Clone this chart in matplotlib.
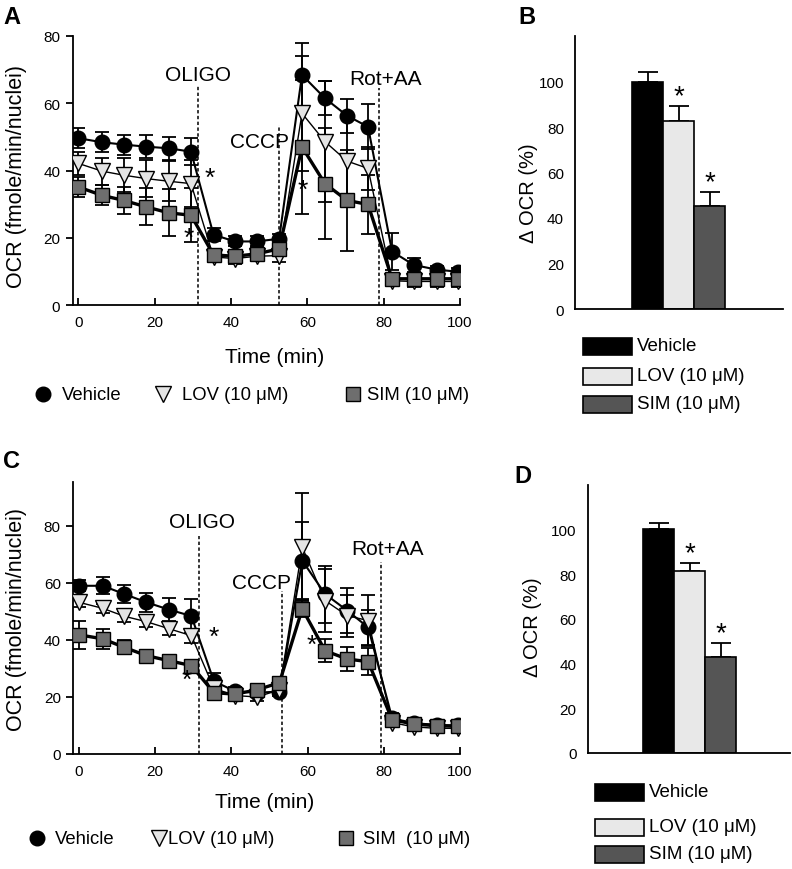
import matplotlib
matplotlib.use("Agg")
import matplotlib.pyplot as plt
from matplotlib.patches import Rectangle
import numpy as np

plt.rcParams['font.family'] = ['Liberation Sans', 'DejaVu Sans']

# ---------------- data ----------------
times = [0, 6.2, 11.9, 17.7, 23.7, 29.5, 35.4, 41.0, 46.7, 52.6,
         58.6, 64.6, 70.4, 75.9, 82.2, 87.9, 94.0, 99.5]
series_names = ["Vehicle", "LOV (10 μM)", "SIM (10 μM)"]

# Panel A
vehA = [49.6, 48.4, 47.7, 47.1, 46.6, 45.6, 20.9, 18.9, 18.9, 19.7,
        68.4, 61.5, 56.3, 53.0, 15.9, 11.9, 10.5, 9.9]
vehA_err = [3, 3, 3, 3.5, 3.5, 4, 2, 1.5, 1.5, 1.5,
            9.5, 5, 5, 6.7, 5.6, 2, 1.2, 1]
lovA = [42.1, 39.8, 38.6, 37.6, 36.8, 36.1, 14.3, 13.8, 14.5, 14.7,
        57.0, 48.6, 42.8, 40.6, 7.2, 7.0, 7.0, 7.0]
lovA_err = [3.5, 4, 5, 5.5, 6, 7, 1.5, 1.5, 1.5, 2,
            17, 18, 13, 6.5, 1.5, 1.5, 1.5, 1.5]
simA = [35.1, 32.6, 31.1, 29.2, 27.4, 26.7, 14.9, 14.5, 15.2, 16.7,
        47.0, 36.1, 31.1, 29.9, 7.8, 7.8, 7.8, 7.8]
simA_err = [3, 3, 4, 5.5, 7, 8, 1.5, 1.5, 2, 2,
            20, 16.5, 15, 8.7, 1.5, 1.5, 1.5, 1.5]

# Panel C
vehC = [59.0, 59.0, 56.1, 53.2, 50.6, 48.4, 25.5, 22.0, 21.5, 21.9,
        67.8, 56.1, 50.3, 44.4, 12.5, 10.8, 10.2, 10.0]
vehC_err = [2, 3, 3, 3.3, 4, 6, 3, 1.5, 1.5, 1.5,
            13.5, 10, 8, 6, 2, 1.5, 1.5, 1.5]
lovC = [53.2, 51.1, 48.3, 46.4, 43.9, 41.5, 23.0, 20.5, 20.0, 22.5,
        72.5, 53.8, 48.5, 46.8, 11.0, 9.5, 9.0, 9.0]
lovC_err = [1.5, 1.5, 2, 2, 2, 2.5, 1.5, 1.5, 1.5, 1.5,
            19, 11, 7.3, 9, 1.5, 1.5, 1.5, 1.5]
simC = [41.8, 40.4, 37.4, 34.5, 32.7, 31.0, 21.5, 21.0, 22.5, 25.0,
        50.9, 36.2, 33.3, 32.4, 12.0, 10.5, 9.9, 9.7]
simC_err = [5, 3.5, 2.5, 2, 2, 1.5, 1.5, 1.5, 1.5, 2,
            3, 4, 4.1, 4.7, 2, 1.5, 1.5, 1.5]

# injections
inject_labels = ["OLIGO", "CCCP", "Rot+AA"]
injectA = [31.4, 52.6, 78.9]
injectC = [31.6, 53.3, 79.3]

# asterisks (time, value)
starsA = [(34.5, 39.1), (28.8, 21.2), (58.9, 35.6)]
starsC = [(35.3, 42.7), (28.4, 27.5), (61.1, 39.8)]

# bar panels
bar_cats = ["Vehicle", "LOV (10 μM)", "SIM (10 μM)"]
barB = [100, 82.8, 45.1]
barB_err = [4, 6.5, 6.4]
barD = [100, 81.6, 42.9]
barD_err = [2.8, 3.5, 6.4]

# ---------------- styles ----------------
W, H = 792, 870
fig = plt.figure(figsize=(W / 100, H / 100), dpi=100)

def frac(l, t, r, b):
    return [l / W, 1 - b / H, (r - l) / W, (b - t) / H]

styles = [
    dict(marker='o', mfc='black', mec='black', ms=10.5, lw=1.5, color='black'),
    dict(marker='v', mfc='#e4e4e4', mec='black', ms=11, lw=1.0, color='black', mew=1.0),
    dict(marker='s', mfc='#6e6e6e', mec='black', ms=9.5, lw=2.4, color='black', mew=1.0),
]

def star(ax, x, y, size):
    ax.annotate('*', xy=(x, y), xytext=(0, -3), textcoords='offset points',
                ha='center', va='center', fontsize=size)

def time_panel(rect, ylim_top, series, injects, inj_tops, label_pos, stars):
    ax = fig.add_axes(rect)
    for (y, e), st in zip(series, styles):
        ax.errorbar(times, y, yerr=e, fmt='none', ecolor='black', elinewidth=1.3,
                    capsize=5.2, capthick=1.3, zorder=2)
    for (y, e), st in zip(series, styles):
        ax.plot(times, y, zorder=3, **st)
    for xv, top in zip(injects, inj_tops):
        ax.plot([xv, xv], [0, top], color='black', lw=1.1, ls=(0, (2.2, 1.6)), zorder=1)
    for lab, (lx, ly) in zip(inject_labels, label_pos):
        ax.text(lx, ly, lab, ha='center', va='center', fontsize=15)
    for sx, sy in stars:
        star(ax, sx, sy, 19)
    ax.set_xlim(-1.5, 100)
    ax.set_ylim(0, ylim_top)
    ax.set_xticks([0, 20, 40, 60, 80, 100])
    ax.set_yticks([0, 20, 40, 60, 80])
    for s in ['top', 'right']:
        ax.spines[s].set_visible(False)
    for s in ['left', 'bottom']:
        ax.spines[s].set_linewidth(1.3)
    ax.tick_params(axis='x', direction='in', length=5, width=1.3, pad=7, labelsize=11)
    ax.tick_params(axis='y', direction='out', length=5, width=1.3, pad=4, labelsize=11)
    return ax

axA = time_panel(frac(72.7, 37, 460, 306), 80,
                 [(vehA, vehA_err), (lovA, lovA_err), (simA, simA_err)],
                 injectA, [65, 53.5, 64.5],
                 [(31.4, 68.5), (47.5, 48.5), (80.5, 67.5)], starsA)
axC = time_panel(frac(73.3, 483, 460, 755), 95.4,
                 [(vehC, vehC_err), (lovC, lovC_err), (simC, simC_err)],
                 injectC, [76.6, 57.3, 67.3],
                 [(32.3, 81.5), (48.0, 60.0), (81.0, 72.0)], starsC)

def bar_panel(rect, vals, errs, right, offset):
    ax = fig.add_axes(rect)
    x = np.arange(len(vals)) + offset
    colors = ['black', '#e8e8e8', '#555555']
    ax.bar(x, vals, width=1.0, color=colors, edgecolor='black', linewidth=1.2, zorder=2)
    ax.errorbar(x, vals, yerr=[np.zeros(len(errs)), errs], fmt='none', ecolor='black',
                elinewidth=1.3, capsize=7, capthick=1.3, zorder=1)
    for xi, v, e in zip(x[1:], vals[1:], errs[1:]):
        star(ax, xi, v + e + 6, 20)
    ax.set_xlim(0, right)
    ax.set_ylim(0, 120)
    ax.set_yticks([0, 20, 40, 60, 80, 100])
    ax.set_xticks([])
    for s in ['top', 'right']:
        ax.spines[s].set_visible(False)
    for s in ['left', 'bottom']:
        ax.spines[s].set_linewidth(1.3)
    ax.tick_params(axis='y', length=0, pad=8, labelsize=11)
    return ax

axB = bar_panel(frac(575, 37, 783, 310), barB, barB_err, 6.71, 2.35)
axD = bar_panel(frac(587.7, 485.7, 790, 754), barD, barD_err, 6.53, 2.29)

# ---------------- overlay text / legends ----------------
ov = fig.add_axes([0, 0, 1, 1], zorder=10)
ov.set_xlim(0, W)
ov.set_ylim(H, 0)
ov.axis('off')
ov.patch.set_alpha(0)

for lab, (x, y) in zip(['A', 'B', 'C', 'D'], [(12, 18), (527, 18), (12, 462), (523, 477)]):
    ov.text(x, y, lab, fontsize=17, fontweight='bold', ha='center', va='center')

ov.text(17, 176, 'OCR (fmole/min/nuclei)', rotation=90, ha='center', va='center', fontsize=15.5)
ov.text(17, 620, 'OCR (fmole/min/nuclei)', rotation=90, ha='center', va='center', fontsize=15.5)
ov.text(275, 358, 'Time (min)', ha='center', va='center', fontsize=15)
ov.text(265, 803, 'Time (min)', ha='center', va='center', fontsize=15)
ov.text(528, 193, 'Δ OCR (%)', rotation=90, ha='center', va='center', fontsize=14.5)
ov.text(533, 627, 'Δ OCR (%)', rotation=90, ha='center', va='center', fontsize=14.5)

# line-panel legends
legA = [(43, 62), (163, 182), (353, 367)]
legC = [(37, 55), (159, 168), (346, 363)]
textsC = ["Vehicle", "LOV (10 μM)", "SIM  (10 μM)"]
for (row_y, pos, texts) in [(395, legA, series_names), (839, legC, textsC)]:
    for (mx, tx), st, t in zip(pos, styles, texts):
        ov.plot([mx], [row_y], marker=st['marker'], mfc=st['mfc'], mec='black',
                ms=st['ms'] + (0.5 if st['marker'] == 'v' else 0), ls='none',
                mew=st.get('mew', 1.0))
        ov.text(tx, row_y + 1, t, ha='left', va='center', fontsize=13.3)

# bar legends
bar_colors = ['black', '#e8e8e8', '#555555']
for (bx0, bx1, tx, rows) in [(583, 632, 637, [347, 377, 405]), (595, 644, 649, [793, 828, 855])]:
    for ry, c, t in zip(rows, bar_colors, bar_cats):
        ov.add_patch(Rectangle((bx0, ry - 8.5), bx1 - bx0, 17, facecolor=c, edgecolor='black', lw=1.2))
        ov.text(tx, ry, t, ha='left', va='center', fontsize=13.5)

fig.savefig('out.png', dpi=100)
